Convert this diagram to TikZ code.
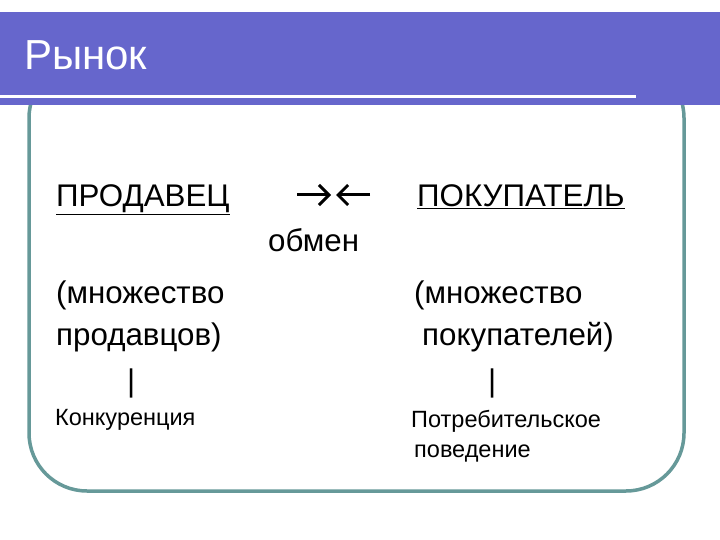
\documentclass[tikz,border=0pt]{standalone}
\usepackage{fontspec}
\setmainfont{Liberation Sans}
\usetikzlibrary{arrows.meta}
\definecolor{bandcol}{HTML}{6666CC}
\definecolor{framecol}{HTML}{669999}
\tikzset{
  body/.style={anchor=base west, inner sep=0pt, font=\fontsize{31.3bp}{36bp}\selectfont},
  small/.style={anchor=base west, inner sep=0pt, font=\fontsize{23.5bp}{28bp}\selectfont},
  xarrow/.style={line width=3bp, -{Straight Barb[length=10bp,width=20bp,line width=3bp]}}
}
\begin{document}
\begin{tikzpicture}[x=1bp,y=-1bp]
\useasboundingbox (0,0) rectangle (720,540);
\fill[white] (0,0) rectangle (720,540);
% frame
\draw[framecol, line width=3.5bp, rounded corners=58bp] (29,60) rectangle (684,491);
% header band
\fill[bandcol] (0,12) rectangle (720,105);
\fill[white] (0,95.5) rectangle (636,98.5);
\node[anchor=base west, inner sep=0pt, text=white, font=\fontsize{42bp}{48bp}\selectfont] (title) at (24,70) {Рынок};
% left column
\node[body] (seller) at (56,207) {\underline{ПРОДАВЕЦ}};
\node[body] (sellers1) at (56,303) {(множество};
\node[body] (sellers2) at (56,345) {продавцов)};
\node[body] (bar1) at (127,391) {|};
\node[small] (compet) at (55,425) {Конкуренция};
% middle
\coordinate (a1s) at (297,195);
\coordinate (a1e) at (331,195);
\coordinate (a2s) at (370,195);
\coordinate (a2e) at (336,195);
\draw[xarrow] (a1s) -- (a1e);
\draw[xarrow] (a2s) -- (a2e);
\node[body] (exch) at (268,252) {обмен};
% right column
\node[body] (buyer) at (417,207) {\underline{ПОКУПАТЕЛЬ}};
\node[body] (buyers1) at (414,303) {(множество};
\node[body] (buyers2) at (422,345) {покупателей)};
\node[body] (bar2) at (488,391) {|};
\node[small] (cons1) at (411,427) {Потребительское};
\node[small] (cons2) at (414,457) {поведение};
\end{tikzpicture}
\end{document}
